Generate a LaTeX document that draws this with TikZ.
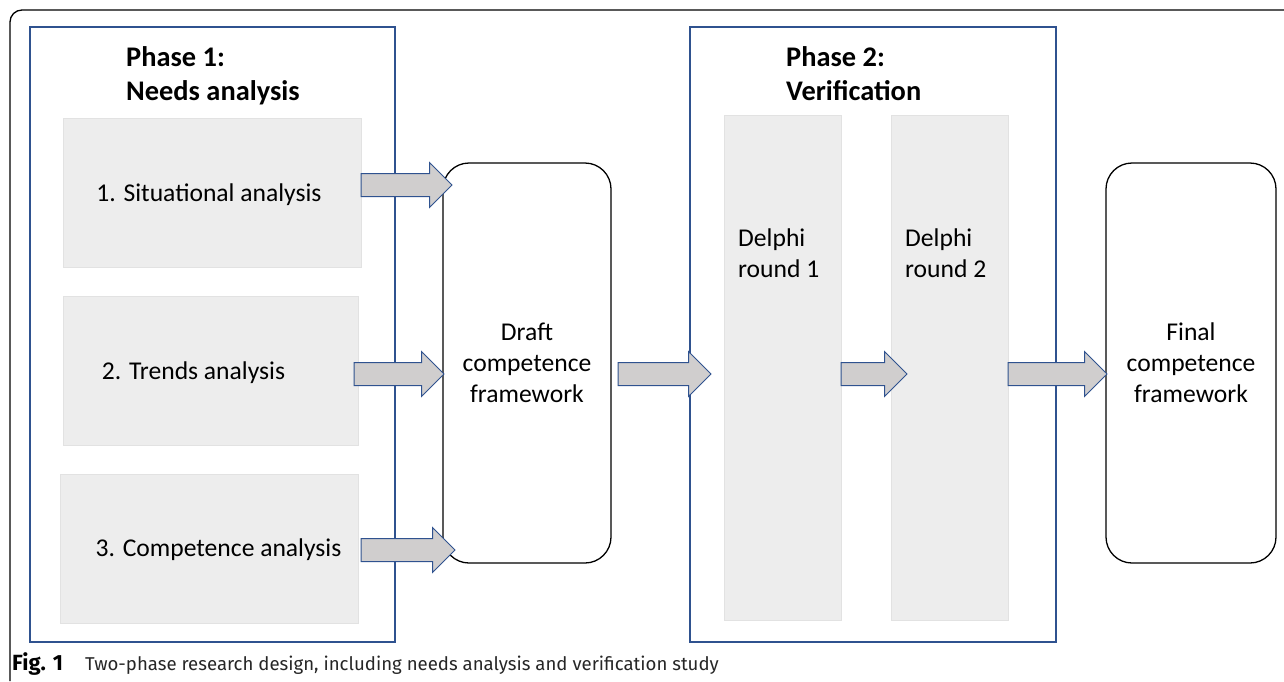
\documentclass[tikz,border=0pt]{standalone}
\usepackage{fontspec}
\setmainfont{Carlito}
\newfontfamily\capfont{Fira Sans}
\usetikzlibrary{shapes.arrows,calc}
\definecolor{phaseblue}{RGB}{47,82,143}
\definecolor{arrowgray}{RGB}{208,206,206}
\definecolor{stagegray}{RGB}{237,237,237}
\definecolor{stageedge}{RGB}{226,226,226}
\tikzset{
    outerframe/.style={line width=1.3pt,black},
    phasebox/.style={draw=phaseblue,line width=1.2pt,inner sep=0pt},
    stagebox/.style={fill=stagegray,draw=stageedge,line width=0.8pt,inner sep=0pt},
    roundbox/.style={draw=black,line width=1.3pt,rounded corners=26pt,align=center,
        font=\fontsize{25.6}{31}\selectfont},
    bodytext/.style={inner sep=0pt,font=\fontsize{25.6}{31}\selectfont},
    headtext/.style={inner sep=0pt,align=left,font=\fontsize{28.4}{34}\selectfont\bfseries},
    captext/.style={inner sep=0pt,anchor=base west,font=\capfont\fontsize{18.6}{22}\selectfont},
    blockarr/.style={single arrow,draw=phaseblue,fill=arrowgray,line width=1pt,
        single arrow head extend=11pt,inner xsep=0pt,inner ysep=11pt,outer sep=0pt}
}
\newcommand{\blockarrow}[2]{%
    \path let \p1=(#1), \p2=(#2), \n1={\x2-\x1} in
        node[blockarr,minimum height=\n1,anchor=tail] at (\p1) {};}

\begin{document}
\begin{tikzpicture}[x=1pt,y=-1pt]
    \useasboundingbox (0,0) rectangle (1284,681);
    % Outer frame
    \draw[outerframe,rounded corners=12pt] (10,681) -- (10,10) -- (1284,10);
    % Phase 1
    \node[phasebox,minimum width=365pt,minimum height=615pt] (phaseA) at (212.5,334.5) {};
    \node[headtext,anchor=north west] (headA) at (126,46) {Phase 1:\\Needs analysis};
    \node[stagebox,minimum width=298pt,minimum height=149pt] (s1) at (212,192.5) {};
    \node[stagebox,minimum width=295pt,minimum height=149pt] (s2) at (210.5,370.5) {};
    \node[stagebox,minimum width=298pt,minimum height=149pt] (s3) at (209,548.5) {};
    \node[bodytext] (t1) at (209,195) {1. Situational analysis};
    \node[bodytext] (t2) at (193.5,373) {2. Trends analysis};
    \node[bodytext] (t3) at (218.5,550) {3. Competence analysis};
    % Draft framework
    \node[roundbox,minimum width=168pt,minimum height=400pt] (draft) at (527,363)
        {Draft\\competence\\framework};
    % Phase 2
    \node[phasebox,minimum width=366pt,minimum height=615pt] (phaseB) at (873,334.5) {};
    \node[headtext,anchor=north west] (headB) at (786,46) {Phase 2:\\Verification};
    \node[stagebox,minimum width=117pt,minimum height=505pt] (d1) at (782.5,367.5) {};
    \node[stagebox,minimum width=117pt,minimum height=505pt] (d2) at (949.5,367.5) {};
    \node[bodytext,align=left,anchor=north west] (dt1) at (738,229) {Delphi\\round 1};
    \node[bodytext,align=left,anchor=north west] (dt2) at (905,229) {Delphi\\round 2};
    % Final framework
    \node[roundbox,minimum width=170pt,minimum height=400pt] (final) at (1191,363)
        {Final\\competence\\framework};
    % Block arrows
    \coordinate (a1) at (361,185);  \coordinate (b1) at (452,185);
    \coordinate (a2) at (354,374);  \coordinate (b2) at (444,374);
    \coordinate (a3) at (361,550);  \coordinate (b3) at (455,550);
    \coordinate (a4) at (618,374);  \coordinate (b4) at (711,374);
    \coordinate (a5) at (841,374);  \coordinate (b5) at (907,374);
    \coordinate (a6) at (1008,374); \coordinate (b6) at (1107,374);
    \blockarrow{a1}{b1}
    \blockarrow{a2}{b2}
    \blockarrow{a3}{b3}
    \blockarrow{a4}{b4}
    \blockarrow{a5}{b5}
    \blockarrow{a6}{b6}
    % Caption
    \node[captext,font=\capfont\fontsize{22}{24}\selectfont] (capA) at (12,670) {\textbf{Fig. 1}};
    \node[captext,text=black!85] (capB) at (85,670)
        {Two-phase research design, including needs analysis and verification study};
\end{tikzpicture}
\end{document}
